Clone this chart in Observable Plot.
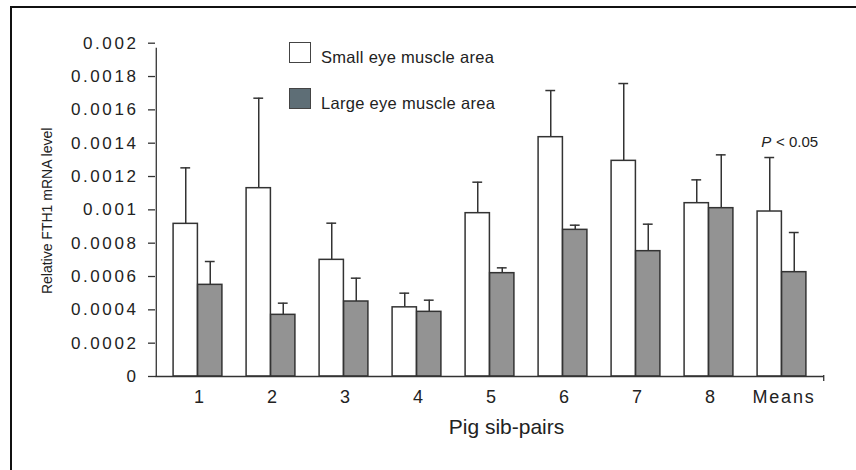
<!DOCTYPE html>
<html>
<head>
<meta charset="utf-8">
<script src="https://cdn.jsdelivr.net/npm/d3@7"></script>
<script src="https://cdn.jsdelivr.net/npm/@observablehq/plot@0.6"></script>
<style>
  html, body { margin: 0; padding: 0; background: #fff; overflow: hidden; width: 856px; height: 470px; }
  #wrap { position: relative; width: 856px; height: 470px; overflow: hidden; font-family: "Liberation Sans", Arial, sans-serif; color: #222; }
  .edge { position: absolute; background: #111; }
  #chart { position: absolute; left: 0; top: 0; }
  g[aria-label="y-axis tick label"] text { letter-spacing: 2.6px; }
  g[aria-label="x-axis tick label"] text { letter-spacing: 1.8px; }
  .key { position: absolute; left: 289px; width: 22px; height: 21px; box-sizing: border-box; border: 1px solid #444; }
  .keytext { position: absolute; left: 321px; font-size: 16.5px; line-height: 1; letter-spacing: 0.3px; color: #222; }
</style>
</head>
<body>
<div id="wrap">
  <div id="chart"></div>
  <div class="edge" style="left:10px; top:6px; width:846px; height:2px;"></div>
  <div class="edge" style="left:10px; top:6px; width:2px; height:464px;"></div>
  <div class="key" style="top:42px; background:#fff;"></div>
  <div class="keytext" id="k0" style="top:49px;"></div>
  <div class="key" style="top:88px; background:#5e6e76;"></div>
  <div class="keytext" id="k1" style="top:95px;"></div>
</div>
<script>
// Relative FTH1 mRNA expression for each pig sib-pair and the overall means
const groups = ["1", "2", "3", "4", "5", "6", "7", "8", "Means"];
const seriesNames = ["Small eye muscle area", "Large eye muscle area"];
const smallMean = [0.000916, 0.00113, 0.0007, 0.000415, 0.00098, 0.001436, 0.001294, 0.00104, 0.00099];
const smallErr  = [0.000336, 0.00054, 0.00022, 0.000085, 0.000186, 0.00028, 0.000464, 0.00014, 0.000324];
const largeMean = [0.00055, 0.00037, 0.00045, 0.000388, 0.00062, 0.00088, 0.000752, 0.00101, 0.000626];
const largeErr  = [0.00014, 0.00007, 0.00014, 0.00007, 0.000032, 0.000028, 0.000162, 0.00032, 0.000238];
const yTicks = [0, 0.0002, 0.0004, 0.0006, 0.0008, 0.001, 0.0012, 0.0014, 0.0016, 0.0018, 0.002];
const significance = "< 0.05";

const rows = groups.map((g, i) => ({
  group: g,
  small: smallMean[i],
  smallTop: smallMean[i] + smallErr[i],
  large: largeMean[i],
  largeTop: largeMean[i] + largeErr[i]
}));

const W = 856, H = 470;
const mL = 155, mR = 32, mT = 42.7, mB = 94;
const outer = 0.07;
const step = (W - mL - mR) / (groups.length + 2 * outer);
const half = step / 2;
const barW = 24.5;
const capHalf = 5;
const ink = "#333";

document.getElementById("k0").textContent = seriesNames[0];
document.getElementById("k1").textContent = seriesNames[1];

const chart = Plot.plot({
  width: W,
  height: H,
  marginLeft: mL,
  marginRight: mR,
  marginTop: mT,
  marginBottom: mB,
  style: { fontFamily: "Liberation Sans, Arial, sans-serif", color: "#222", background: "transparent" },
  x: { type: "band", domain: groups, paddingInner: 0, paddingOuter: outer, label: null },
  y: { domain: [0, yTicks[yTicks.length - 1]], label: null },
  marks: [
    // whiskers (upper only)
    Plot.ruleX(rows, { x: "group", y1: "small", y2: "smallTop", dx: -barW / 2, stroke: ink, strokeWidth: 1.5 }),
    Plot.tickY(rows, { x: "group", y: "smallTop", insetLeft: half - barW / 2 - capHalf, insetRight: half + barW / 2 - capHalf, stroke: ink, strokeWidth: 1.5 }),
    Plot.ruleX(rows, { x: "group", y1: "large", y2: "largeTop", dx: barW / 2, stroke: ink, strokeWidth: 1.5 }),
    Plot.tickY(rows, { x: "group", y: "largeTop", insetLeft: half + barW / 2 - capHalf, insetRight: half - barW / 2 - capHalf, stroke: ink, strokeWidth: 1.5 }),
    // bars
    Plot.barY(rows, { x: "group", y: "small", fill: "#fff", stroke: ink, strokeWidth: 1.5, insetLeft: half - barW, insetRight: half }),
    Plot.barY(rows, { x: "group", y: "large", fill: "#939393", stroke: ink, strokeWidth: 1.5, insetLeft: half, insetRight: half - barW }),
    // axes
    Plot.ruleY([0], { stroke: ink, strokeWidth: 1.3 }),
    Plot.ruleX([groups[0]], { x: d => d, y1: 0, y2: yTicks[yTicks.length - 1], dx: -(half + outer * step), insetBottom: -5, stroke: ink, strokeWidth: 1.3 }),
    Plot.ruleX([groups[groups.length - 1]], { x: d => d, y1: 0, y2: 0, dx: half + outer * step, insetBottom: -5, insetTop: -1, stroke: ink, strokeWidth: 1.3 }),
    Plot.axisY({ ticks: yTicks, tickFormat: d => String(d), tickSize: 7, tickPadding: 10, fontSize: 17, stroke: ink, strokeWidth: 1.3, label: null }),
    Plot.axisX({ tickSize: 0, tickPadding: 14, fontSize: 18, dx: 2, label: null }),
    // axis titles
    Plot.text(["Relative FTH1 mRNA level"], { frameAnchor: "left", rotate: -90, dx: -107.5, dy: 1, fontSize: 14, fill: "#222", textAnchor: "middle" }),
    Plot.text(["Pig sib-pairs"], { frameAnchor: "bottom", dx: 16.5, dy: 57, lineAnchor: "bottom", fontSize: 21, fill: "#222" }),
    // significance note above the means
    Plot.text(rows.filter(d => d.group === "Means"), { x: "group", y: "smallTop", text: () => "P", dx: -20.7, dy: -10.5, lineAnchor: "bottom", textAnchor: "start", fontStyle: "italic", fontSize: 15, fill: "#222" }),
    Plot.text(rows.filter(d => d.group === "Means"), { x: "group", y: "smallTop", text: () => significance, dx: -6, dy: -10.5, lineAnchor: "bottom", textAnchor: "start", fontSize: 15, fill: "#222" })
  ]
});
document.getElementById("chart").appendChild(chart);
</script>
</body>
</html>
